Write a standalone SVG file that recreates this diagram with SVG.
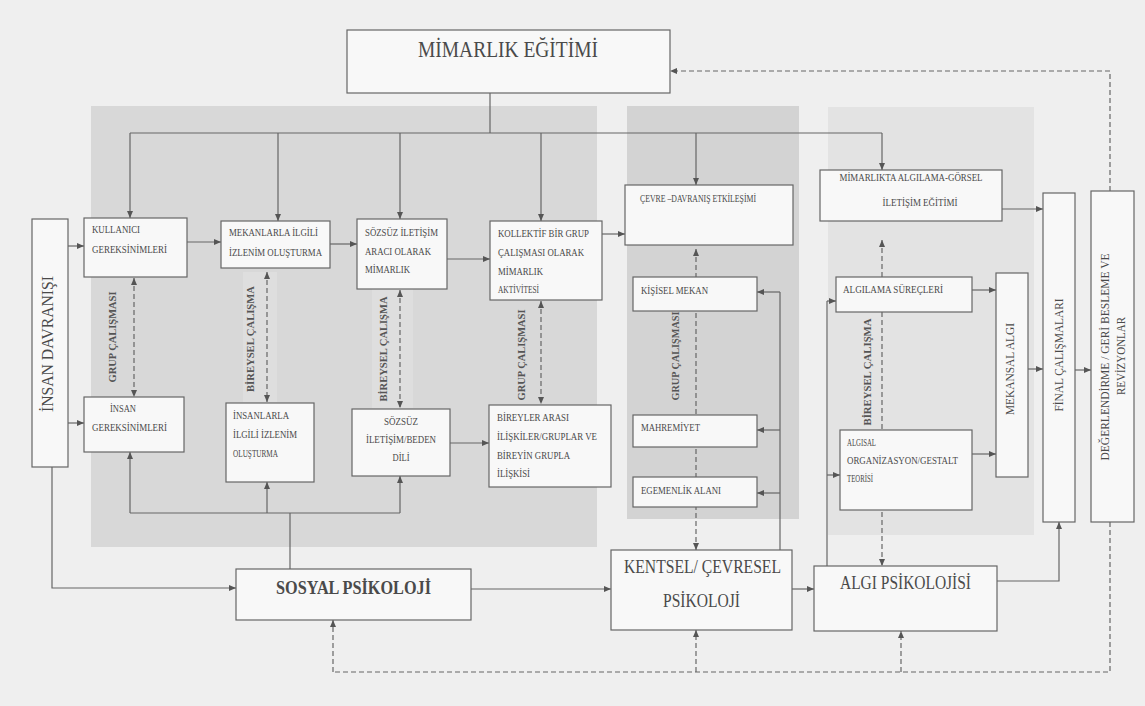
<svg xmlns="http://www.w3.org/2000/svg" width="1145" height="706" viewBox="0 0 1145 706">
<defs>
<marker id="ah" viewBox="0 0 7 7" refX="7" refY="3.5" markerWidth="7" markerHeight="7" markerUnits="userSpaceOnUse" orient="auto-start-reverse"><path d="M0,0.5 L7,3.5 L0,6.5 z" fill="#555"/></marker>
</defs>
<style>
.box{fill:#f8f8f8;stroke:#666;stroke-width:1.2}
.ln{fill:none;stroke:#666;stroke-width:1.2}
.ar{marker-end:url(#ah)}
.bi{marker-start:url(#ah);marker-end:url(#ah)}
.ds{stroke-dasharray:5,3}
text{font-family:"Liberation Serif","Times New Roman",serif;fill:#4a4a4a}
.s{font-size:10px}
.m{font-size:12px}
.big{font-size:24px}
.mid{font-size:18px}
.lb{font-size:10px;fill:#555;font-weight:bold}
</style>
<rect x="0" y="0" width="1145" height="706" fill="#efefef"/>
<g id="shading">
<rect x="91" y="106" width="506" height="441" fill="#d8d8d8"/>
<rect x="627" y="106" width="172" height="413" fill="#d3d3d3"/>
<rect x="828" y="107" width="206" height="428" fill="#e3e3e3"/>
<rect x="243" y="272" width="34" height="130" fill="#dedede"/>
<rect x="372" y="289" width="41" height="119" fill="#dedede"/>
</g>
<g id="connectors">
<polyline class="ln" points="490,93 490,133"/>
<polyline class="ln" points="130,133 882,133"/>
<line class="ln ar" x1="130" y1="133" x2="130" y2="218"/>
<line class="ln ar" x1="278" y1="133" x2="278" y2="221"/>
<line class="ln ar" x1="400" y1="133" x2="400" y2="219"/>
<line class="ln ar" x1="541" y1="133" x2="541" y2="221"/>
<line class="ln ar" x1="696" y1="133" x2="696" y2="185"/>
<line class="ln ar" x1="882" y1="133" x2="882" y2="170"/>
<polyline class="ln ds ar" points="1110,191 1110,71 670,71"/>
<line class="ln ar" x1="68" y1="246" x2="84" y2="246"/>
<line class="ln ar" x1="68" y1="423" x2="84" y2="423"/>
<polyline class="ln ar" points="52,467 52,588 236,588"/>
<line class="ln ar" x1="187" y1="242" x2="221" y2="242"/>
<line class="ln ar" x1="330" y1="244" x2="357" y2="244"/>
<line class="ln ar" x1="447" y1="259" x2="490" y2="259"/>
<line class="ln ar" x1="602" y1="234" x2="625" y2="234"/>
<line class="ln ar" x1="450" y1="443" x2="489" y2="443"/>
<line class="ln ds bi" x1="134" y1="278" x2="134" y2="397"/>
<line class="ln ds bi" x1="267" y1="272" x2="267" y2="402"/>
<line class="ln ds bi" x1="400" y1="290" x2="400" y2="408"/>
<line class="ln ds bi" x1="541" y1="301" x2="541" y2="404"/>
<polyline class="ln" points="290,569 290,513"/>
<polyline class="ln" points="130,513 400,513"/>
<line class="ln ar" x1="130" y1="513" x2="130" y2="452"/>
<line class="ln ar" x1="267" y1="513" x2="267" y2="482"/>
<line class="ln ar" x1="400" y1="513" x2="400" y2="476"/>
<line class="ln ar" x1="471" y1="589" x2="611" y2="589"/>
<line class="ln ar" x1="792" y1="589" x2="814" y2="589"/>
<polyline class="ln ar" points="997,581 1059,581 1059,522"/>
<polyline class="ln" points="780,550 780,292"/>
<line class="ln ar" x1="780" y1="292" x2="757" y2="292"/>
<line class="ln ar" x1="780" y1="430" x2="757" y2="430"/>
<line class="ln ar" x1="780" y1="493" x2="757" y2="493"/>
<polyline class="ln" points="827,566 827,301"/>
<line class="ln ar" x1="827" y1="301" x2="836" y2="301"/>
<line class="ln ar" x1="827" y1="475" x2="840" y2="475"/>
<line class="ln ds bi" x1="696" y1="249" x2="696" y2="550"/>
<line class="ln ds bi" x1="882" y1="240" x2="882" y2="566"/>
<line class="ln ar" x1="1002" y1="209" x2="1043" y2="209"/>
<line class="ln ar" x1="972" y1="290" x2="996" y2="290"/>
<line class="ln ar" x1="972" y1="454" x2="996" y2="454"/>
<line class="ln ar" x1="1028" y1="369" x2="1043" y2="369"/>
<line class="ln ar" x1="1075" y1="370" x2="1091" y2="370"/>
<polyline class="ln ds" points="1110,522 1110,672 333,672"/>
<line class="ln ds ar" x1="333" y1="672" x2="333" y2="620"/>
<line class="ln ds ar" x1="696" y1="672" x2="696" y2="630"/>
<line class="ln ds ar" x1="901" y1="672" x2="901" y2="631"/>
</g>
<g id="labels">
<text class="lb" transform="translate(116.3,337) rotate(-90)" text-anchor="middle" textLength="91" lengthAdjust="spacingAndGlyphs">GRUP ÇALIŞMASI</text>
<text class="lb" transform="translate(254.3,339) rotate(-90)" text-anchor="middle" textLength="106" lengthAdjust="spacingAndGlyphs">BİREYSEL ÇALIŞMA</text>
<text class="lb" transform="translate(387.3,349) rotate(-90)" text-anchor="middle" textLength="105" lengthAdjust="spacingAndGlyphs">BİREYSEL ÇALIŞMA</text>
<text class="lb" transform="translate(525.3,355) rotate(-90)" text-anchor="middle" textLength="91" lengthAdjust="spacingAndGlyphs">GRUP ÇALIŞMASI</text>
<text class="lb" transform="translate(679.3,356) rotate(-90)" text-anchor="middle" textLength="89" lengthAdjust="spacingAndGlyphs">GRUP ÇALIŞMASI</text>
<text class="lb" transform="translate(871.3,372) rotate(-90)" text-anchor="middle" textLength="107" lengthAdjust="spacingAndGlyphs">BİREYSEL ÇALIŞMA</text>
</g>
<g id="mimarlik-egitimi">
<rect class="box" x="347" y="30" width="323" height="63"/>
<text class="big" x="418" y="57" textLength="180" lengthAdjust="spacingAndGlyphs">MİMARLIK EĞİTİMİ</text>
</g>
<g id="insan-davranisi">
<rect class="box" x="32" y="219" width="36" height="248"/>
<text style="font-size:16px" transform="translate(52.5,344) rotate(-90)" text-anchor="middle" textLength="136" lengthAdjust="spacingAndGlyphs">İNSAN DAVRANIŞI</text>
</g>
<g id="kullanici">
<rect class="box" x="84" y="218" width="103" height="59"/>
<text class="s" x="92" y="232.5" textLength="48" lengthAdjust="spacingAndGlyphs">KULLANICI</text>
<text class="s" x="92" y="252.5" textLength="75" lengthAdjust="spacingAndGlyphs">GEREKSİNİMLERİ</text>
</g>
<g id="mekanlarla">
<rect class="box" x="221" y="221" width="109" height="47"/>
<text class="s" x="229" y="235.5" textLength="89" lengthAdjust="spacingAndGlyphs">MEKANLARLA İLGİLİ</text>
<text class="s" x="229" y="255.5" textLength="93" lengthAdjust="spacingAndGlyphs">İZLENİM OLUŞTURMA</text>
</g>
<g id="sozsuz-iletisim-araci">
<rect class="box" x="357" y="219" width="90" height="70"/>
<text class="s" x="365" y="235.5" textLength="73" lengthAdjust="spacingAndGlyphs">SÖZSÜZ İLETİŞİM</text>
<text class="s" x="365" y="254.5" textLength="66" lengthAdjust="spacingAndGlyphs">ARACI OLARAK</text>
<text class="s" x="365" y="272.5" textLength="45" lengthAdjust="spacingAndGlyphs">MİMARLIK</text>
</g>
<g id="kollektif">
<rect class="box" x="490" y="221" width="112" height="79"/>
<text class="s" x="498" y="236.5" textLength="91" lengthAdjust="spacingAndGlyphs">KOLLEKTİF BİR GRUP</text>
<text class="s" x="498" y="255.5" textLength="86" lengthAdjust="spacingAndGlyphs">ÇALIŞMASI OLARAK</text>
<text class="s" x="498" y="274.5" textLength="45" lengthAdjust="spacingAndGlyphs">MİMARLIK</text>
<text class="s" x="498" y="292.5" textLength="41" lengthAdjust="spacingAndGlyphs">AKTİVİTESİ</text>
</g>
<g id="insan-gereksinimleri">
<rect class="box" x="84" y="397" width="100" height="55"/>
<text class="s" x="110" y="411.5" textLength="26" lengthAdjust="spacingAndGlyphs">İNSAN</text>
<text class="s" x="92" y="430.5" textLength="75" lengthAdjust="spacingAndGlyphs">GEREKSİNİMLERİ</text>
</g>
<g id="insanlarla">
<rect class="box" x="226" y="403" width="88" height="79"/>
<text class="s" x="233" y="418.5" textLength="56" lengthAdjust="spacingAndGlyphs">İNSANLARLA</text>
<text class="s" x="233" y="437.5" textLength="64" lengthAdjust="spacingAndGlyphs">İLGİLİ İZLENİM</text>
<text class="s" x="233" y="456.5" textLength="45" lengthAdjust="spacingAndGlyphs">OLUŞTURMA</text>
</g>
<g id="sozsuz-beden-dili">
<rect class="box" x="352" y="409" width="98" height="67"/>
<text class="s" x="401" y="424.5" text-anchor="middle" textLength="34" lengthAdjust="spacingAndGlyphs">SÖZSÜZ</text>
<text class="s" x="401" y="442.5" text-anchor="middle" textLength="70" lengthAdjust="spacingAndGlyphs">İLETİŞİM/BEDEN</text>
<text class="s" x="401" y="461" text-anchor="middle" textLength="17" lengthAdjust="spacingAndGlyphs">DİLİ</text>
</g>
<g id="bireyler-arasi">
<rect class="box" x="489" y="405" width="122" height="82"/>
<text class="s" x="497" y="420.5" textLength="72" lengthAdjust="spacingAndGlyphs">BİREYLER ARASI</text>
<text class="s" x="497" y="439.5" textLength="100" lengthAdjust="spacingAndGlyphs">İLİŞKİLER/GRUPLAR VE</text>
<text class="s" x="497" y="458.5" textLength="73" lengthAdjust="spacingAndGlyphs">BİREYİN GRUPLA</text>
<text class="s" x="497" y="476.5" textLength="33" lengthAdjust="spacingAndGlyphs">İLİŞKİSİ</text>
</g>
<g id="cevre-davranis">
<rect class="box" x="625" y="185" width="168" height="60"/>
<text class="s" x="640" y="201.5" textLength="116" lengthAdjust="spacingAndGlyphs">ÇEVRE –DAVRANIŞ ETKİLEŞİMİ</text>
</g>
<g id="kisisel-mekan">
<rect class="box" x="633" y="277" width="124" height="34"/>
<text class="s" x="641" y="293.5" textLength="67" lengthAdjust="spacingAndGlyphs">KİŞİSEL MEKAN</text>
</g>
<g id="mahremiyet">
<rect class="box" x="633" y="415" width="124" height="32"/>
<text class="s" x="641" y="430.5" textLength="59" lengthAdjust="spacingAndGlyphs">MAHREMİYET</text>
</g>
<g id="egemenlik-alani">
<rect class="box" x="633" y="477" width="124" height="30"/>
<text class="s" x="641" y="493.5" textLength="80" lengthAdjust="spacingAndGlyphs">EGEMENLİK ALANI</text>
</g>
<g id="mimarlikta-algilama">
<rect class="box" x="820" y="170" width="182" height="51"/>
<text class="s" x="911" y="180.5" text-anchor="middle" textLength="143" lengthAdjust="spacingAndGlyphs">MİMARLIKTA ALGILAMA-GÖRSEL</text>
<text class="s" x="920" y="205.5" text-anchor="middle" textLength="75" lengthAdjust="spacingAndGlyphs">İLETİŞİM EĞİTİMİ</text>
</g>
<g id="algilama-surecleri">
<rect class="box" x="836" y="277" width="136" height="35"/>
<text class="s" x="843" y="292.5" textLength="100" lengthAdjust="spacingAndGlyphs">ALGILAMA SÜREÇLERİ</text>
</g>
<g id="algisal-organizasyon">
<rect class="box" x="840" y="430" width="132" height="80"/>
<text class="s" x="847" y="445.5" textLength="29" lengthAdjust="spacingAndGlyphs">ALGISAL</text>
<text class="s" x="847" y="463.5" textLength="111" lengthAdjust="spacingAndGlyphs">ORGANİZASYON/GESTALT</text>
<text class="s" x="847" y="481.5" textLength="26" lengthAdjust="spacingAndGlyphs">TEORİSİ</text>
</g>
<g id="mekansal-algi">
<rect class="box" x="996" y="273" width="32" height="204"/>
<text class="m" transform="translate(1014,369) rotate(-90)" text-anchor="middle" textLength="92" lengthAdjust="spacingAndGlyphs">MEKANSAL ALGI</text>
</g>
<g id="final-calismalari">
<rect class="box" x="1043" y="193" width="32" height="329"/>
<text class="m" transform="translate(1063,355) rotate(-90)" text-anchor="middle" textLength="113" lengthAdjust="spacingAndGlyphs">FİNAL ÇALIŞMALARI</text>
</g>
<g id="degerlendirme">
<rect class="box" x="1091" y="191" width="43" height="331"/>
<text class="m" transform="translate(1109,357) rotate(-90)" text-anchor="middle" textLength="207" lengthAdjust="spacingAndGlyphs">DEĞERLENDİRME / GERİ BESLEME VE</text>
<text class="m" transform="translate(1125,356) rotate(-90)" text-anchor="middle" textLength="78" lengthAdjust="spacingAndGlyphs">REVİZYONLAR</text>
</g>
<g id="sosyal-psikoloji">
<rect class="box" x="236" y="569" width="235" height="51"/>
<text style="font-size:19px;font-weight:bold" x="276" y="594" textLength="155" lengthAdjust="spacingAndGlyphs">SOSYAL PSİKOLOJİ</text>
</g>
<g id="kentsel-cevresel">
<rect class="box" x="611" y="550" width="181" height="80"/>
<text class="mid" x="624" y="573" textLength="157" lengthAdjust="spacingAndGlyphs">KENTSEL/ ÇEVRESEL</text>
<text class="mid" x="663" y="607" textLength="77" lengthAdjust="spacingAndGlyphs">PSİKOLOJİ</text>
</g>
<g id="algi-psikolojisi">
<rect class="box" x="814" y="566" width="183" height="65"/>
<text class="mid" x="840" y="589" textLength="131" lengthAdjust="spacingAndGlyphs">ALGI PSİKOLOJİSİ</text>
</g>
</svg>
